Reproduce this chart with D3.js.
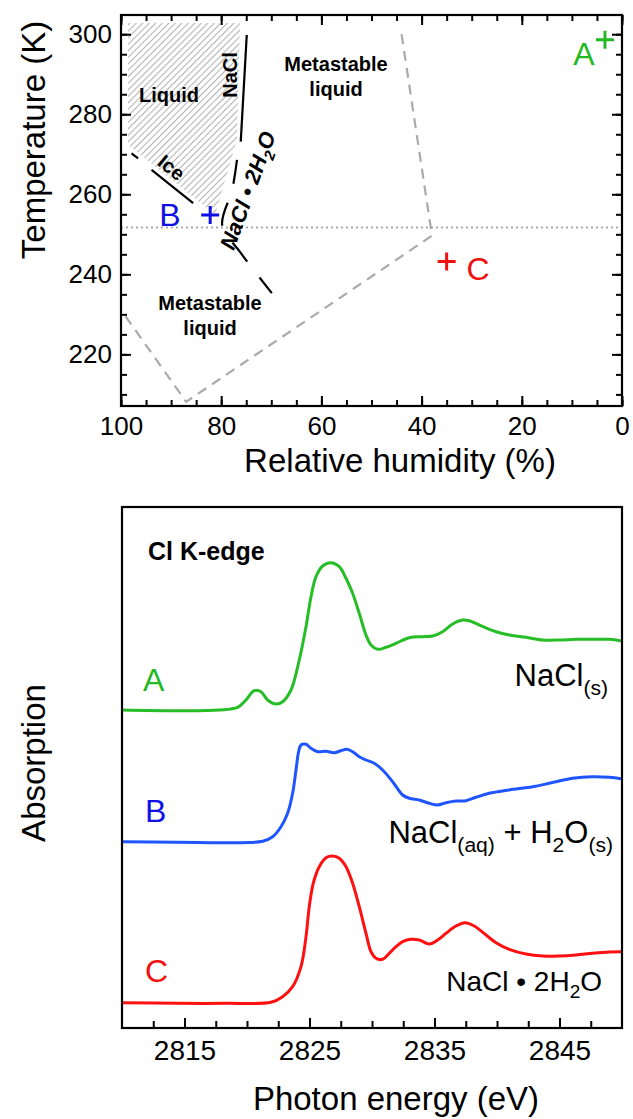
<!DOCTYPE html>
<html><head><meta charset="utf-8">
<script src="https://cdn.jsdelivr.net/npm/d3@7"></script>
<style>
body{margin:0;background:#fff}
svg{display:block}
text{font-family:"Liberation Sans",Arial,Helvetica,sans-serif}
</style>
</head><body>
<svg id="c" width="633" height="1119"></svg>
<script>
// ---------- data: phase diagram ----------
const rhTicks = [100, 80, 60, 40, 20, 0];
const rhMinor = d3.range(0, 101, 5);
const tTicks = [220, 240, 260, 280, 300];
const tMinor = d3.range(210, 305, 5);
const liquidRegion = [[98.6, 302.8], [76.25, 302.8], [76.85, 273.6], [81.24, 254.9], [98.6, 272.4]];
const naclLine = [[74.9, 299.8], [76.1, 273.15]];
const iceLine = [[93.9, 266.1], [85.6, 257.8]];
const iceDash = [[97.9, 270.25], [96.6, 269.0]];
const dihydrateLine = [[76.85, 268.6], [77.8, 261.1], [79.8, 252.3], [76.25, 245.6], [69.9, 235.3]];
const metastableBoundary = [[44, 300], [38.1, 251.1], [38, 249.6], [87, 208.15], [100, 231.1]];
const eutecticT = 251.7;
const sampleNames = ["A", "B", "C"];
const sampleRH = [3.4, 82.2, 35.0];
const sampleT = [298.6, 254.8, 243.2];
const sampleColors = ["#22b922", "#1010e6", "#f01010"];
const curveColors = ["#26bd26", "#1f55ff", "#ff1010"];

// ---------- data: Cl K-edge spectra ----------
const eTicks = [2815, 2825, 2835, 2845];
const eMinor = d3.range(2812.5, 2850, 2.5);
const energyA = [2810.0, 2814.32, 2817.78, 2819.25, 2819.92, 2820.58, 2821.12, 2821.65, 2822.32, 2822.85, 2823.52, 2824.18, 2824.72, 2825.12, 2825.52, 2826.05, 2826.72, 2827.38, 2827.92, 2828.45, 2828.98, 2829.52, 2829.92, 2830.45, 2831.12, 2831.92, 2832.98, 2834.05, 2834.85, 2835.65, 2836.45, 2837.25, 2837.78, 2838.58, 2839.92, 2840.98, 2842.32, 2843.65, 2845.0, 2846.32, 2847.65, 2848.98, 2849.92];
const absA = [3.18, 3.173, 3.18, 3.207, 3.28, 3.373, 3.363, 3.28, 3.24, 3.263, 3.38, 3.68, 4.013, 4.313, 4.513, 4.62, 4.653, 4.613, 4.497, 4.347, 4.147, 3.93, 3.83, 3.787, 3.807, 3.847, 3.903, 3.913, 3.92, 3.963, 4.04, 4.08, 4.073, 4.03, 3.963, 3.93, 3.907, 3.88, 3.88, 3.887, 3.887, 3.887, 3.87];
const energyB = [2810.0, 2814.32, 2816.98, 2819.65, 2821.25, 2822.05, 2822.72, 2823.25, 2823.65, 2823.92, 2824.13, 2824.32, 2824.72, 2825.12, 2825.65, 2826.32, 2826.98, 2827.52, 2827.97, 2828.45, 2828.98, 2829.52, 2830.18, 2830.85, 2831.65, 2832.45, 2832.98, 2833.78, 2834.58, 2835.25, 2835.92, 2836.72, 2837.52, 2838.32, 2839.38, 2840.98, 2842.85, 2844.18, 2846.05, 2847.65, 2848.98, 2849.92];
const absB = [1.863, 1.857, 1.853, 1.853, 1.867, 1.913, 2.013, 2.147, 2.347, 2.58, 2.763, 2.83, 2.837, 2.797, 2.763, 2.767, 2.753, 2.773, 2.787, 2.763, 2.713, 2.68, 2.647, 2.58, 2.463, 2.33, 2.297, 2.28, 2.247, 2.23, 2.253, 2.27, 2.273, 2.307, 2.347, 2.38, 2.413, 2.447, 2.497, 2.513, 2.507, 2.493];
const energyC = [2810.0, 2814.32, 2818.32, 2821.92, 2822.85, 2823.65, 2824.32, 2824.72, 2824.98, 2825.3, 2825.78, 2826.32, 2826.85, 2827.38, 2827.92, 2828.45, 2828.98, 2829.52, 2829.92, 2830.32, 2830.85, 2831.38, 2831.92, 2832.45, 2833.12, 2833.78, 2834.58, 2835.25, 2835.92, 2836.72, 2837.46, 2838.18, 2839.12, 2839.92, 2840.98, 2842.32, 2843.65, 2844.98, 2846.32, 2847.65, 2848.98, 2849.92];
const absC = [0.253, 0.247, 0.247, 0.257, 0.313, 0.413, 0.613, 0.913, 1.213, 1.447, 1.613, 1.703, 1.72, 1.697, 1.613, 1.447, 1.213, 0.947, 0.763, 0.697, 0.687, 0.747, 0.813, 0.863, 0.887, 0.88, 0.84, 0.88, 0.947, 1.02, 1.053, 1.02, 0.93, 0.853, 0.787, 0.74, 0.72, 0.72, 0.73, 0.747, 0.76, 0.763];

// ---------- drawing ----------
const svg = d3.select("#c");
const defs = svg.append("defs");
const pat = defs.append("pattern").attr("id", "hatch").attr("patternUnits", "userSpaceOnUse")
  .attr("width", 4.6).attr("height", 4.6).attr("patternTransform", "rotate(45)");
pat.append("line").attr("x1", 2.3).attr("y1", -1).attr("x2", 2.3).attr("y2", 5.6)
  .attr("stroke", "#b4b4b4").attr("stroke-width", 1.1);

// ===== Top panel =====
const L1 = 121, R1 = 622, T1 = 15, B1 = 406;
const x1 = d3.scaleLinear().domain([100, 0]).range([L1, R1]);
const y1 = d3.scaleLinear().domain([207.1, 304.8]).range([B1, T1]);
defs.append("clipPath").attr("id", "clip1").append("rect")
  .attr("x", L1).attr("y", T1).attr("width", R1 - L1).attr("height", B1 - T1);
const g1 = svg.append("g");
const plot1 = g1.append("g").attr("clip-path", "url(#clip1)");
const line1 = d3.line().x(d => x1(d[0])).y(d => y1(d[1]));

plot1.append("path").datum(liquidRegion).attr("d", line1.curve(d3.curveLinearClosed))
  .attr("fill", "url(#hatch)").attr("stroke", "none");
line1.curve(d3.curveLinear);

plot1.append("line").attr("x1", L1).attr("x2", R1).attr("y1", y1(eutecticT)).attr("y2", y1(eutecticT))
  .attr("stroke", "#aaa").attr("stroke-width", 2).attr("stroke-dasharray", "2,3");
plot1.append("path").datum(metastableBoundary).attr("d", line1).attr("fill", "none")
  .attr("stroke", "#aaa").attr("stroke-width", 2.2).attr("stroke-dasharray", "10,7");

[naclLine, iceLine, iceDash].forEach(seg => {
  plot1.append("path").datum(seg).attr("d", line1).attr("fill", "none")
    .attr("stroke", "#000").attr("stroke-width", 2.2);
});
plot1.append("path").datum(dihydrateLine).attr("d", d3.line().x(d => x1(d[0])).y(d => y1(d[1])).curve(d3.curveCatmullRom))
  .attr("fill", "none").attr("stroke", "#000").attr("stroke-width", 2.2).attr("stroke-dasharray", "24,20");

// region labels
const lab = (x, y, txt, rot, opts = {}) => {
  const t = g1.append("text").attr("transform", `translate(${x},${y}) rotate(${rot || 0})`)
    .attr("text-anchor", "middle").attr("font-weight", "bold").attr("font-size", opts.size || 20)
    .attr("font-style", opts.italic ? "italic" : "normal");
  return t.text(txt);
};
lab(169, 102, "Liquid");
lab(237, 75, "NaCl", -90);
lab(167, 173, "Ice", 39);
lab(336, 71, "Metastable");
lab(336, 96, "liquid");
lab(210, 310, "Metastable");
lab(210, 335, "liquid");
const dh = g1.append("text").attr("transform", "translate(255,193) rotate(-70)")
  .attr("text-anchor", "middle").attr("font-weight", "bold").attr("font-style", "italic").attr("font-size", 22);
dh.append("tspan").text("NaCl \u2022 2H");
dh.append("tspan").attr("dy", 6).attr("font-size", 15).text("2");
dh.append("tspan").attr("dy", -6).text("O");

// samples
sampleNames.forEach((n, i) => {
  const px = x1(sampleRH[i]), py = y1(sampleT[i]);
  g1.append("path").attr("d", `M${px - 9},${py}H${px + 9}M${px},${py - 9}V${py + 9}`)
    .attr("stroke", sampleColors[i]).attr("stroke-width", 3).attr("fill", "none");
});
const sampleLabelPos = [[584, 65], [170, 226], [478, 280]];
sampleNames.forEach((n, i) => {
  g1.append("text").attr("x", sampleLabelPos[i][0]).attr("y", sampleLabelPos[i][1])
    .attr("text-anchor", "middle").attr("font-size", 32).attr("fill", sampleColors[i]).text(n);
});

// axes top panel
function styleAxis(g, fs) {
  g.select(".domain").remove();
  g.selectAll("line").attr("stroke", "#000").attr("stroke-width", 2);
  g.selectAll("text").attr("font-size", fs).attr("fill", "#000")
    .attr("font-family", "'Liberation Sans',Arial,sans-serif");
}
g1.append("g").attr("transform", `translate(0,${B1})`)
  .call(d3.axisBottom(x1).tickValues(rhMinor).tickSize(-6).tickFormat(""))
  .call(g => styleAxis(g, 26));
g1.append("g").attr("transform", `translate(0,${B1})`)
  .call(d3.axisBottom(x1).tickValues(rhTicks).tickSize(-10).tickPadding(11).tickFormat(d3.format("d")))
  .call(g => styleAxis(g, 26));
g1.append("g").attr("transform", `translate(0,${T1})`)
  .call(d3.axisTop(x1).tickValues(rhMinor).tickSize(-6).tickFormat(""))
  .call(g => styleAxis(g, 26));
g1.append("g").attr("transform", `translate(0,${T1})`)
  .call(d3.axisTop(x1).tickValues(rhTicks).tickSize(-10).tickFormat(""))
  .call(g => styleAxis(g, 26));
g1.append("g").attr("transform", `translate(${L1},0)`)
  .call(d3.axisLeft(y1).tickValues(tMinor).tickSize(-6).tickFormat(""))
  .call(g => styleAxis(g, 26));
g1.append("g").attr("transform", `translate(${L1},0)`)
  .call(d3.axisLeft(y1).tickValues(tTicks).tickSize(-10).tickPadding(9).tickFormat(d3.format("d")))
  .call(g => styleAxis(g, 26));
g1.append("g").attr("transform", `translate(${R1},0)`)
  .call(d3.axisRight(y1).tickValues(tMinor).tickSize(-6).tickFormat(""))
  .call(g => styleAxis(g, 26));
g1.append("g").attr("transform", `translate(${R1},0)`)
  .call(d3.axisRight(y1).tickValues(tTicks).tickSize(-10).tickFormat(""))
  .call(g => styleAxis(g, 26));
g1.append("rect").attr("x", L1).attr("y", T1).attr("width", R1 - L1).attr("height", B1 - T1)
  .attr("fill", "none").attr("stroke", "#000").attr("stroke-width", 2.2);

g1.append("text").attr("x", 400).attr("y", 472).attr("text-anchor", "middle")
  .attr("font-size", 33).text("Relative humidity (%)");
g1.append("text").attr("transform", "translate(45,140) rotate(-90)").attr("text-anchor", "middle")
  .attr("font-size", 33).text("Temperature (K)");

// ===== Bottom panel =====
const L2 = 122, R2 = 622, T2 = 507, B2 = 1028;
const x2 = d3.scaleLinear().domain([2810, 2850]).range([L2, R2]);
const y2 = d3.scaleLinear().domain([0, 5.21]).range([B2, T2]);
const g2 = svg.append("g");
const line2 = d3.line().x(d => x2(d[0])).y(d => y2(d[1])).curve(d3.curveCatmullRom);
[[energyA, absA], [energyB, absB], [energyC, absC]].forEach((s, i) => {
  g2.append("path").datum(d3.zip(s[0], s[1])).attr("d", line2).attr("fill", "none")
    .attr("stroke", curveColors[i]).attr("stroke-width", 3).attr("stroke-linejoin", "round");
});

g2.append("g").attr("transform", `translate(0,${B2})`)
  .call(d3.axisBottom(x2).tickValues(eMinor).tickSize(-7).tickFormat(""))
  .call(g => styleAxis(g, 28));
g2.append("g").attr("transform", `translate(0,${B2})`)
  .call(d3.axisBottom(x2).tickValues(eTicks).tickSize(-10).tickPadding(12).tickFormat(d3.format("d")))
  .call(g => styleAxis(g, 28));
g2.append("rect").attr("x", L2).attr("y", T2).attr("width", R2 - L2).attr("height", B2 - T2)
  .attr("fill", "none").attr("stroke", "#000").attr("stroke-width", 2.2);

g2.append("text").attr("x", 148).attr("y", 560).attr("font-weight", "bold").attr("font-size", 25).text("Cl K-edge");
const curveLabelPos = [[143, 691], [145, 822], [145, 982]];
sampleNames.forEach((n, i) => {
  g2.append("text").attr("x", curveLabelPos[i][0]).attr("y", curveLabelPos[i][1])
    .attr("font-size", 32).attr("fill", sampleColors[i]).text(n);
});
const sub = (t, parts, size) => {
  parts.forEach(p => {
    const ts = t.append("tspan").text(p[0]);
    if (p[1]) ts.attr("dy", 9).attr("font-size", size * 0.68);
    if (p[2]) ts.attr("dy", -9);
  });
};
const tA = g2.append("text").attr("x", 608).attr("y", 686).attr("text-anchor", "end").attr("font-size", 31);
sub(tA, [["NaCl"], ["(s)", 1]], 31);
const tB = g2.append("text").attr("x", 613).attr("y", 843).attr("text-anchor", "end").attr("font-size", 31);
sub(tB, [["NaCl"], ["(aq)", 1], [" + H", 0, 1], ["2", 1], ["O", 0, 1], ["(s)", 1]], 31);
const tC = g2.append("text").attr("x", 602).attr("y", 991).attr("text-anchor", "end").attr("font-size", 28);
tC.append("tspan").text("NaCl \u2022 2H");
tC.append("tspan").attr("dy", 7).attr("font-size", 19).text("2");
tC.append("tspan").attr("dy", -7).text("O");

g2.append("text").attr("x", 396).attr("y", 1110).attr("text-anchor", "middle")
  .attr("font-size", 33).text("Photon energy (eV)");
g2.append("text").attr("transform", "translate(45,763) rotate(-90)").attr("text-anchor", "middle")
  .attr("font-size", 33).text("Absorption");
</script>
</body></html>
